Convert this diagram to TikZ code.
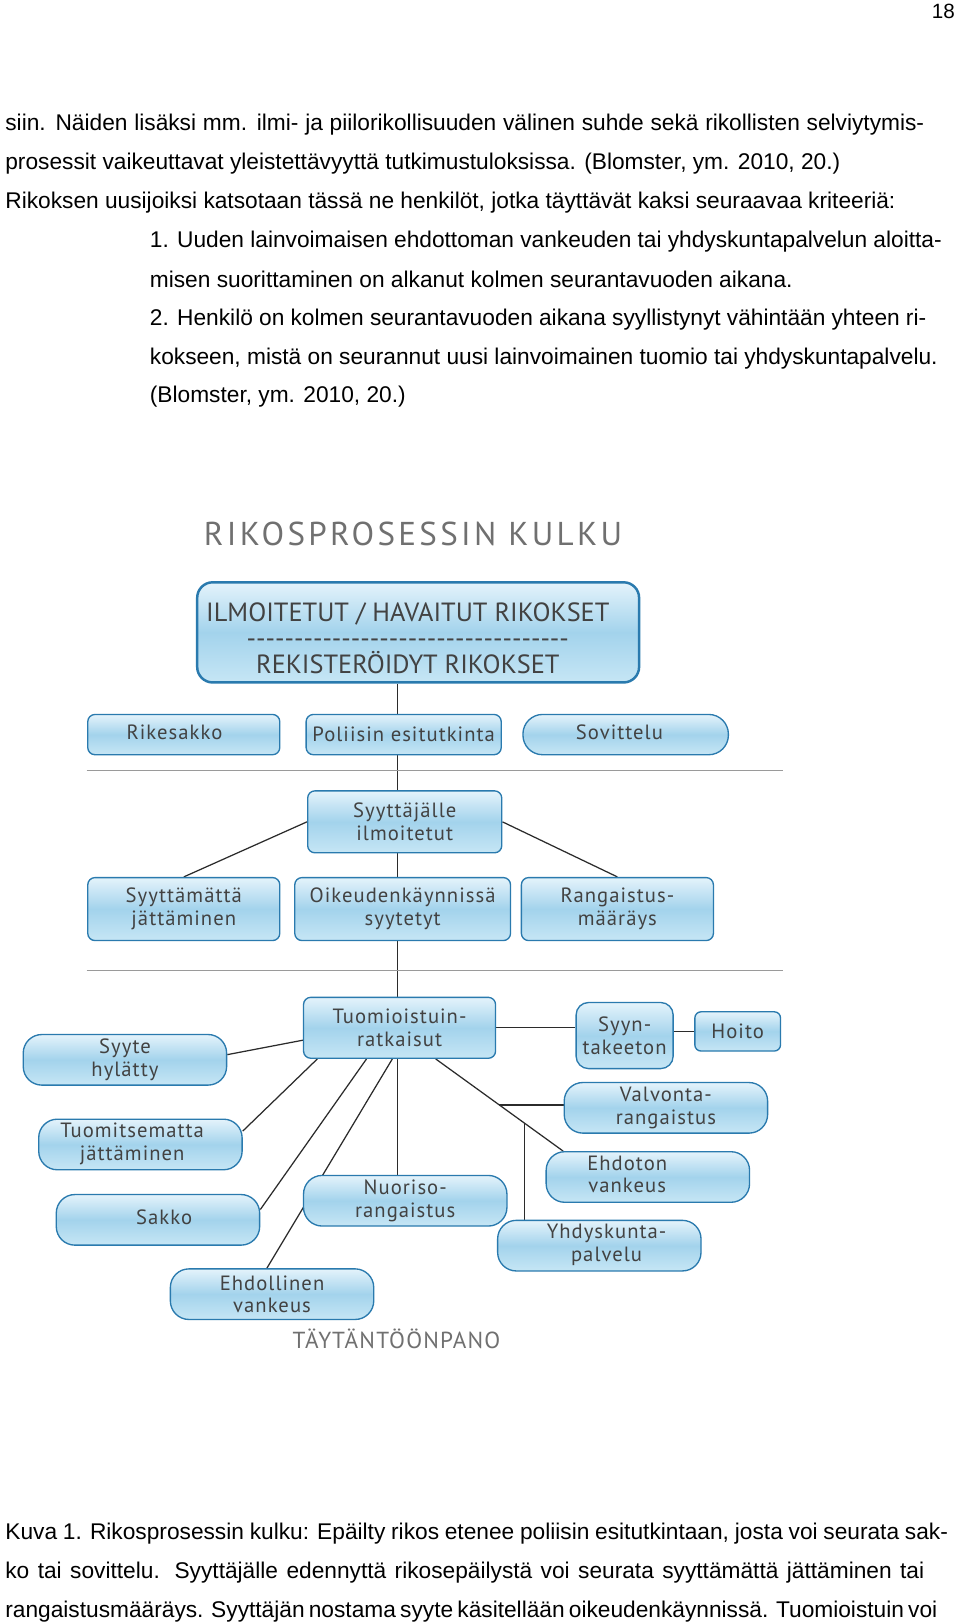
\documentclass[tikz,border=0pt]{standalone}
\usepackage{fontspec}
\setmainfont{Liberation Sans}
\newfontfamily\diagfont[LetterSpace=5]{PT Sans}
\usetikzlibrary{positioning,calc}
\pgfdeclarelayer{background}
\pgfsetlayers{background,main}

\definecolor{boxline}{HTML}{2A7AAE}
\definecolor{boxtop}{HTML}{E4F3FB}
\definecolor{boxmid}{HTML}{A3D3EC}
\definecolor{boxbot}{HTML}{C6E6F5}
\definecolor{boxtext}{HTML}{424242}
\definecolor{titlegray}{HTML}{707070}
\definecolor{linkgray}{HTML}{2B2B2B}
\definecolor{sepgray}{HTML}{9A9A9A}

\newcommand{\bodyfont}{\fontsize{22}{37.7}\selectfont}
\newcommand{\boxfont}{\diagfont\fontsize{20}{22}\selectfont}
\newcommand{\topfont}{\diagfont\addfontfeature{LetterSpace=0}\fontsize{25.5}{25}\selectfont}
\newcommand{\titlefont}{\diagfont\addfontfeature{LetterSpace=10}\fontsize{32}{32}\selectfont}
\newcommand{\dashrow}{\foreach \x in {1,...,34}{-}}
\newcommand{\nudge}[2]{\hspace*{#1}\begin{tabular}{@{}c@{}}#2\end{tabular}}

\tikzset{
  textline/.style={anchor=base west, inner sep=0pt, font=\bodyfont},
  stage/.style={draw=boxline, line width=1.3pt, rounded corners=7pt,
    top color=boxtop, bottom color=boxbot, middle color=boxmid,
    text=boxtext, font=\boxfont, align=center, inner sep=1pt},
  pill/.style={stage, rounded corners=18pt, minimum width=197pt, minimum height=49pt},
  link/.style={draw=linkgray, line width=1.2pt},
  sepline/.style={draw=sepgray, line width=1pt}
}

\begin{document}
\begin{tikzpicture}[x=1pt, y=-1pt]
  \begin{pgfonlayer}{background}
  \fill[white] (0,0) rectangle (930,1572);
  \end{pgfonlayer}
  \useasboundingbox (0,0) rectangle (930,1572);

  % page text
  \node[anchor=base east, inner sep=0pt, font=\fontsize{20}{20}\selectfont] (pageno) at (925,18) {18};
  \node[textline] (txt1) at (5,126) {\makebox[890pt][s]{siin. Näiden lisäksi mm. ilmi- ja piilorikollisuuden välinen suhde sekä rikollisten selviytymis-}};
  \node[textline] (txt2) at (5,164) {prosessit vaikeuttavat yleistettävyyttä tutkimustuloksissa. (Blomster, ym. 2010, 20.)};
  \node[textline] (txt3) at (5,202) {Rikoksen uusijoiksi katsotaan tässä ne henkilöt, jotka täyttävät kaksi seuraavaa kriteeriä:};
  \node[textline] (txt4) at (145,240) {\makebox[767pt][s]{1. Uuden lainvoimaisen ehdottoman vankeuden tai yhdyskuntapalvelun aloitta-}};
  \node[textline] (txt5) at (145,278) {misen suorittaminen on alkanut kolmen seurantavuoden aikana.};
  \node[textline] (txt6) at (145,315) {\makebox[752pt][s]{2. Henkilö on kolmen seurantavuoden aikana syyllistynyt vähintään yhteen ri-}};
  \node[textline] (txt7) at (145,353) {\makebox[763pt][s]{kokseen, mistä on seurannut uusi lainvoimainen tuomio tai yhdyskuntapalvelu.}};
  \node[textline] (txt8) at (145,390) {(Blomster, ym. 2010, 20.)};

  % title and top box
  \node[text=titlegray, font=\titlefont] (title) at (400,517) {RIKOSPROSESSIN KULKU};
  \node[stage, line width=2.4pt, rounded corners=15pt, minimum width=428pt, minimum height=97pt, font=\topfont] (reported) at (405,612.5)
    {\nudge{-20pt}{\rule{0pt}{36.5pt}ILMOITETUT / HAVAITUT RIKOKSET\\\dashrow\\\smash{REKISTERÖIDYT RIKOKSET}}};

  % police level
  \node[stage, minimum width=186pt, minimum height=39pt] (ticket) at (178,711.5) {\nudge{-18pt}{Rikesakko}};
  \node[stage, minimum width=189pt, minimum height=39pt] (police) at (391,711.5) {Poliisin esitutkinta};
  \node[stage, rounded corners=19pt, minimum width=199pt, minimum height=39pt] (mediation) at (606,711.5) {\nudge{-12pt}{Sovittelu}};
  \draw[sepline] (84,746) -- (758,746);

  % prosecutor level
  \node[stage, minimum width=188pt, minimum height=60pt] (prosecutor) at (392,796) {Syyttäjälle\\ilmoitetut};
  \node[stage, minimum width=186pt, minimum height=61pt] (waived) at (178,880.5) {Syyttämättä\\jättäminen};
  \node[stage, minimum width=209pt, minimum height=61pt] (trial) at (390,880.5) {Oikeudenkäynnissä\\syytetyt};
  \node[stage, minimum width=186pt, minimum height=61pt] (order) at (598,880.5) {Rangaistus-\\määräys};
  \draw[sepline] (84,940) -- (758,940);

  % court level
  \node[stage, minimum width=186pt, minimum height=59pt] (court) at (387,995.5) {Tuomioistuin-\\ratkaisut};
  \node[pill] (dismissed) at (121,1026.5) {Syyte\\hylätty};
  \node[pill] (unsentenced) at (136,1108.5) {\nudge{-16pt}{Tuomitsematta\\jättäminen}};
  \node[pill] (sakko) at (153,1181.5) {\nudge{12pt}{Sakko}};
  \node[pill] (conditional) at (263.5,1253.5) {Ehdollinen\\vankeus};
  \node[pill] (youth) at (392.5,1163) {Nuoriso-\\rangaistus};
  \node[stage, rounded corners=12pt, minimum width=94pt, minimum height=64pt] (insane) at (605,1003) {Syyn-\\takeeton};
  \node[stage, rounded corners=6pt, minimum width=83pt, minimum height=38pt] (care) at (714.5,999) {Hoito};
  \node[pill] (supervision) at (645,1073) {Valvonta-\\rangaistus};
  \node[pill] (prison) at (627.5,1140) {\nudge{-40pt}{Ehdoton\\vankeus}};
  \node[pill] (community) at (580.5,1206.5) {\nudge{14pt}{Yhdyskunta-\\palvelu}};
  \node[text=titlegray, font=\diagfont\fontsize{22.5}{22.5}\selectfont] (enforcement) at (384,1297) {TÄYTÄNTÖÖNPANO};

  % connectors, behind the boxes
  \begin{pgfonlayer}{background}
  \coordinate (spine) at (385,0);
  \draw[link] (reported.south -| spine) -- (police.north -| spine);
  \draw[link] (police.south -| spine) -- (prosecutor.north -| spine);
  \draw[link] (prosecutor.south -| spine) -- (trial.north -| spine);
  \draw[link] (trial.south -| spine) -- (court.north -| spine);
  \draw[link] (prosecutor.west) -- (waived.north);
  \draw[link] (prosecutor.east) -- (order.north);
  \draw[link] ([shift={(0,12)}]court.west) -- ([shift={(0,-5)}]dismissed.east);
  \draw[link] ([shift={(14,0)}]court.south west) -- ([shift={(0,-13)}]unsentenced.east);
  \draw[link] ([shift={(-32,0)}]court.south) -- ([shift={(0,-10)}]sakko.east);
  \draw[link] ([shift={(-7,0)}]court.south) -- ([shift={(-5,0)}]conditional.north);
  \draw[link] (court.south -| spine) -- (youth.north -| spine);
  \draw[link] ([shift={(35,0)}]court.south) -- coordinate[pos=0.5] (branchA) coordinate[pos=0.7] (branchB) ([shift={(17,0)}]prison.north west);
  \draw[link] (branchA) -- (branchA -| supervision.west);
  \draw[link] (branchB) -- (branchB |- community.north);
  \draw[link] (court.east) -- (court.east -| insane.west);
  \draw[link] (care.west -| insane.east) -- (care.west);
  \end{pgfonlayer}

  % caption
  \node[textline] (cap1) at (5,1491) {\makebox[913pt][s]{Kuva 1. Rikosprosessin kulku: Epäilty rikos etenee poliisin esitutkintaan, josta voi seurata sak-}};
  \node[textline] (cap2) at (5,1529) {\makebox[890pt][s]{ko tai sovittelu. Syyttäjälle edennyttä rikosepäilystä voi seurata syyttämättä jättäminen tai}};
  \node[textline] (cap3) at (5,1567) {\makebox[900pt][s]{rangaistusmääräys. Syyttäjän nostama syyte käsitellään oikeudenkäynnissä. Tuomioistuin voi}};
\end{tikzpicture}
\end{document}
